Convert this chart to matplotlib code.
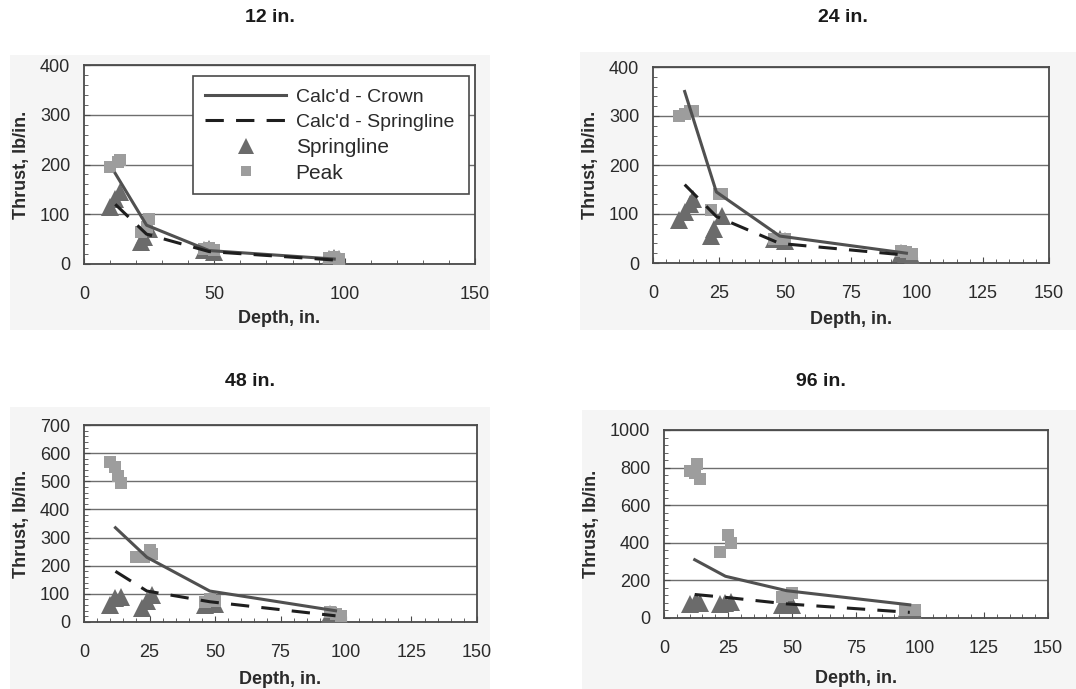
import matplotlib
matplotlib.use("Agg")
import matplotlib.pyplot as plt
from matplotlib import font_manager
from matplotlib.patches import Rectangle
from matplotlib.ticker import MultipleLocator

plt.rcParams["font.family"] = ["Liberation Sans", "DejaVu Sans"]

W, H = 1076, 689

# Calculated thrust at the four depths of cover
depth_calc = [12, 24, 48, 96]

# 12 in. pipe
crown_12 = [182, 78, 27, 10]
springcalc_12 = [120, 60, 25, 8]
spring_x_12 = [10, 12, 14, 22, 23, 25, 46, 48, 50, 94, 96, 98]
spring_y_12 = [115, 130, 145, 45, 55, 70, 28, 30, 25, 10, 12, 10]
peak_x_12 = [10, 13, 14, 22, 24, 25, 46, 48, 50, 94, 96, 98]
peak_y_12 = [195, 205, 210, 65, 75, 90, 30, 32, 28, 12, 14, 10]

# 24 in. pipe
crown_24 = [350, 145, 55, 20]
springcalc_24 = [160, 95, 40, 16]
spring_x_24 = [10, 12, 14, 15, 22, 23, 26, 46, 48, 50, 94, 96, 98]
spring_y_24 = [88, 105, 120, 130, 55, 70, 95, 48, 48, 45, 20, 18, 12]
peak_x_24 = [10, 12, 14, 15, 22, 25, 26, 46, 48, 50, 94, 96, 98]
peak_y_24 = [300, 305, 310, 310, 108, 140, 140, 50, 50, 50, 25, 22, 18]

# 48 in. pipe
crown_48 = [335, 230, 110, 40]
springcalc_48 = [180, 110, 72, 22]
spring_x_48 = [10, 12, 14, 22, 24, 26, 46, 48, 50, 94, 96, 98]
spring_y_48 = [60, 85, 90, 50, 75, 95, 60, 70, 65, 30, 25, 15]
peak_x_48 = [10, 12, 13, 14, 20, 23, 25, 26, 46, 48, 50, 94, 96, 98]
peak_y_48 = [570, 550, 520, 495, 230, 230, 255, 240, 70, 80, 75, 35, 30, 20]

# 96 in. pipe
crown_96 = [310, 222, 145, 70]
springcalc_96 = [125, 110, 75, 30]
spring_x_96 = [10, 12, 13, 14, 22, 24, 26, 46, 48, 50, 94, 96, 98]
spring_y_96 = [75, 80, 80, 80, 75, 80, 85, 70, 75, 70, 30, 25, 20]
peak_x_96 = [10, 12, 13, 14, 22, 25, 26, 46, 48, 50, 94, 96, 98]
peak_y_96 = [780, 770, 820, 740, 350, 440, 400, 110, 125, 135, 40, 45, 40]

panels = [
    # title, crown, spring calc, spring pts, peak pts, ymax, ymajor, yminor, xmajor, xminor,
    # axes box (l, t, r, b px), background box (l, t, r, b px), title pos, xlabel pad
    ("12 in.", crown_12, springcalc_12, (spring_x_12, spring_y_12), (peak_x_12, peak_y_12),
     400, 100, 20, 50, 10, (84, 65, 475, 264), (10, 55, 490, 330), (270, 18), 5),
    ("24 in.", crown_24, springcalc_24, (spring_x_24, spring_y_24), (peak_x_24, peak_y_24),
     400, 100, 20, 25, 5, (653, 67, 1049, 263), (580, 52, 1076, 330), (843, 18), 6),
    ("48 in.", crown_48, springcalc_48, (spring_x_48, spring_y_48), (peak_x_48, peak_y_48),
     700, 100, 20, 25, 5, (84, 425, 477, 622), (10, 407, 490, 689), (250, 382), 7),
    ("96 in.", crown_96, springcalc_96, (spring_x_96, spring_y_96), (peak_x_96, peak_y_96),
     1000, 200, 40, 25, 5, (664, 430, 1048, 618), (582, 410, 1076, 689), (821, 382), 9),
]

TRI_COLOR = "#6b6b6b"
SQ_COLOR = "#9d9d9d"
CROWN_COLOR = "#505050"
SPRING_COLOR = "#1e1e1e"
TEXT_COLOR = "#2a2a2a"

# narrow face for the calculated-curve legend labels, if one is installed
installed = {f.name for f in font_manager.fontManager.ttflist}
narrow = [n for n in ("Liberation Sans Narrow", "DejaVu Sans Condensed") if n in installed]
narrow_family = narrow[:1] + ["Liberation Sans"]


def px_box(l, t, r, b):
    return [l / W, 1 - b / H, (r - l) / W, (b - t) / H]


fig = plt.figure(figsize=(W / 100, H / 100), dpi=100)
fig.patch.set_facecolor("white")

for (title, crown, scalc, spring, peak, ymax, ymaj, ymin, xmaj, xmin,
     box, bg, tpos, xpad) in panels:
    bl, bt, br, bb = bg
    fig.patches.append(Rectangle((bl / W, 1 - bb / H), (br - bl) / W, (bb - bt) / H,
                                 transform=fig.transFigure, facecolor="#f5f5f5",
                                 edgecolor="none", zorder=-10))
    fig.text(tpos[0] / W, 1 - tpos[1] / H, title, ha="center", va="center",
             fontsize=14, weight="bold", color="#1a1a1a")

    ax = fig.add_axes(px_box(*box))
    ax.set_facecolor("white")

    ax.plot(spring[0], spring[1], linestyle="none", marker="^", markersize=13,
            color=TRI_COLOR, markeredgewidth=0, label="Springline", zorder=3)
    ax.plot(peak[0], peak[1], linestyle="none", marker="s", markersize=8.5,
            color=SQ_COLOR, markeredgewidth=0, label="Peak", zorder=4)
    ax.plot(depth_calc, crown, color=CROWN_COLOR, lw=2.2,
            label="Calc'd - Crown", zorder=5)
    ax.plot(depth_calc, scalc, color=SPRING_COLOR, lw=2.2, dashes=(6, 4),
            label="Calc'd - Springline", zorder=5)

    ax.set_xlim(0, 150)
    ax.set_ylim(0, ymax)
    ax.xaxis.set_major_locator(MultipleLocator(xmaj))
    ax.xaxis.set_minor_locator(MultipleLocator(xmin))
    ax.yaxis.set_major_locator(MultipleLocator(ymaj))
    ax.yaxis.set_minor_locator(MultipleLocator(ymin))
    ax.grid(axis="y", which="major", color="#6e6e6e", lw=1.0)
    ax.set_axisbelow(True)
    for s in ax.spines.values():
        s.set_color("#4a4a4a")
        s.set_linewidth(1.3)
    ax.tick_params(which="both", direction="in", colors="#4a4a4a",
                   labelcolor=TEXT_COLOR, labelsize=13, top=False, right=False)
    ax.tick_params(which="major", length=4)
    ax.tick_params(which="minor", length=3)
    ax.tick_params(axis="x", which="major", pad=16)
    ax.tick_params(axis="y", which="major", pad=10)
    ax.set_xlabel("Depth, in.", fontsize=13, weight="bold", color=TEXT_COLOR,
                  labelpad=xpad)
    ax.set_ylabel("Thrust, lb/in.", fontsize=13, weight="bold", color=TEXT_COLOR,
                  labelpad=7)

    if title == "12 in.":
        handles, labels = ax.get_legend_handles_labels()
        order = [2, 3, 0, 1]
        leg = ax.legend([handles[i] for i in order], [labels[i] for i in order],
                        loc="upper left", bbox_to_anchor=(0.28, 0.945, 0.705, 0.0),
                        mode="expand", fontsize=15, handlelength=3.9,
                        handletextpad=0.45, labelspacing=0.32, borderpad=0.55,
                        markerscale=0.85, fancybox=False, framealpha=1,
                        edgecolor="#4a4a4a", borderaxespad=0)
        leg.get_frame().set_linewidth(1.2)
        for t in leg.get_texts()[:2]:
            t.set_fontfamily(narrow_family)
            t.set_fontsize(14)
        for t in leg.get_texts():
            t.set_color(TEXT_COLOR)

fig.savefig("out.png", dpi=100)
